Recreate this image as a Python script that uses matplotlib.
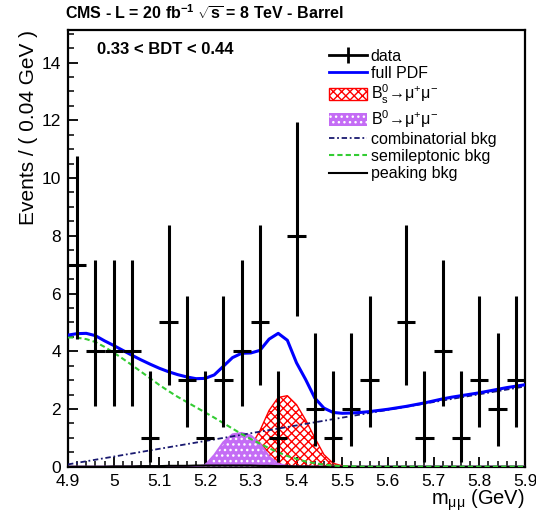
import numpy as np
import matplotlib
matplotlib.use("Agg")
import matplotlib.pyplot as plt
from matplotlib.lines import Line2D
from matplotlib.patches import Patch

plt.rcParams['font.family'] = ['Liberation Sans', 'DejaVu Sans']
plt.rcParams['mathtext.fontset'] = 'custom'
plt.rcParams['mathtext.rm'] = 'Liberation Sans'
plt.rcParams['mathtext.it'] = 'Liberation Sans:italic'
plt.rcParams['mathtext.bf'] = 'Liberation Sans:bold'
plt.rcParams['hatch.linewidth'] = 1.0

# ---- data (bin centres, counts, Poisson errors) ----
bin_centers = [4.92, 4.96, 5.00, 5.04, 5.08, 5.12, 5.16, 5.20, 5.24, 5.28, 5.32, 5.36, 5.40,
               5.44, 5.48, 5.52, 5.56, 5.60, 5.64, 5.68, 5.72, 5.76, 5.80, 5.84, 5.88]
counts = [7, 4, 4, 4, 1, 5, 3, 1, 3, 4, 5, 1, 8, 2, 1, 2, 3, 0, 5, 1, 4, 1, 3, 2, 3]
bin_half = 0.02
err_lo_table = {0: 0.0, 1: 0.827, 2: 1.292, 3: 1.633, 4: 1.914, 5: 2.159, 7: 2.580, 8: 2.768}
err_hi_table = {0: 1.841, 1: 2.299, 2: 2.637, 3: 2.918, 4: 3.162, 5: 3.382, 7: 3.775, 8: 3.945}

# ---- fitted curves ----
x_curve = [4.90, 4.92, 4.94, 4.96, 4.98, 5.00, 5.02, 5.04, 5.06, 5.08, 5.10, 5.12, 5.14, 5.16,
           5.18, 5.20, 5.22, 5.24, 5.26, 5.28, 5.30, 5.32, 5.34, 5.36, 5.38, 5.40, 5.42, 5.44,
           5.46, 5.48, 5.50, 5.52, 5.54, 5.56, 5.58, 5.60, 5.62, 5.64, 5.66, 5.68, 5.70, 5.72,
           5.74, 5.76, 5.78, 5.80, 5.82, 5.84, 5.86, 5.88, 5.90]
full_pdf = [4.56, 4.61, 4.62, 4.54, 4.36, 4.20, 4.03, 3.86, 3.70, 3.55, 3.41, 3.29, 3.19, 3.11,
            3.05, 3.06, 3.18, 3.48, 3.78, 3.93, 3.94, 4.03, 4.42, 4.62, 4.38, 3.60, 3.02, 2.38,
            2.03, 1.88, 1.85, 1.86, 1.88, 1.91, 1.95, 1.99, 2.04, 2.09, 2.15, 2.21, 2.28, 2.35,
            2.41, 2.46, 2.51, 2.56, 2.62, 2.68, 2.74, 2.79, 2.84]
semileptonic = [4.48, 4.47, 4.42, 4.32, 4.15, 3.95, 3.74, 3.52, 3.29, 3.06, 2.83, 2.62, 2.42, 2.24,
                2.06, 1.88, 1.70, 1.51, 1.32, 1.13, 0.96, 0.80, 0.64, 0.50, 0.37, 0.27, 0.18, 0.12,
                0.07, 0.04, 0.02, 0.01, 0.0, 0.0, 0.0, 0.0, 0.0, 0.0, 0.0, 0.0, 0.0, 0.0,
                0.0, 0.0, 0.0, 0.0, 0.0, 0.0, 0.0, 0.0, 0.0]
bs_signal = [0.0, 0.0, 0.0, 0.0, 0.0, 0.0, 0.0, 0.0, 0.0, 0.0, 0.0, 0.0, 0.0, 0.0,
             0.0, 0.0, 0.02, 0.06, 0.15, 0.35, 0.70, 1.25, 1.95, 2.40, 2.46, 2.15, 1.62, 1.00,
             0.42, 0.12, 0.03, 0.0, 0.0, 0.0, 0.0, 0.0, 0.0, 0.0, 0.0, 0.0, 0.0, 0.0,
             0.0, 0.0, 0.0, 0.0, 0.0, 0.0, 0.0, 0.0, 0.0]
bd_signal = [0.0, 0.0, 0.0, 0.0, 0.0, 0.0, 0.0, 0.0, 0.0, 0.0, 0.0, 0.0, 0.0, 0.0,
             0.0, 0.05, 0.40, 0.85, 1.12, 1.17, 1.08, 0.80, 0.35, 0.10, 0.02, 0.0, 0.0, 0.0,
             0.0, 0.0, 0.0, 0.0, 0.0, 0.0, 0.0, 0.0, 0.0, 0.0, 0.0, 0.0, 0.0, 0.0,
             0.0, 0.0, 0.0, 0.0, 0.0, 0.0, 0.0, 0.0, 0.0]
peaking = [0.0, 0.0, 0.0, 0.0, 0.0, 0.01, 0.01, 0.01, 0.02, 0.02, 0.02, 0.03, 0.03, 0.03,
           0.04, 0.04, 0.04, 0.04, 0.04, 0.04, 0.04, 0.03, 0.03, 0.02, 0.02, 0.01, 0.01, 0.0,
           0.0, 0.0, 0.0, 0.0, 0.0, 0.0, 0.0, 0.0, 0.0, 0.0, 0.0, 0.0, 0.0, 0.0,
           0.0, 0.0, 0.0, 0.0, 0.0, 0.0, 0.0, 0.0, 0.0]
comb_x = [4.90, 5.90]
combinatorial = [0.08, 2.78]

x_ticks = [4.9, 5.0, 5.1, 5.2, 5.3, 5.4, 5.5, 5.6, 5.7, 5.8, 5.9]
x_tick_labels = ['4.9', '5', '5.1', '5.2', '5.3', '5.4', '5.5', '5.6', '5.7', '5.8', '5.9']
y_ticks = [0, 2, 4, 6, 8, 10, 12, 14]

W, H = 536, 519
fig = plt.figure(figsize=(W / 100, H / 100), dpi=100)
ax = fig.add_axes([68 / W, 52.3 / H, 457 / W, 436.7 / H])

# fills
ax.fill_between(x_curve, bs_signal, facecolor='none', edgecolor='#ff0000', hatch='xxxx',
                linewidth=1.0, zorder=2)
ax.fill_between(x_curve, bd_signal, facecolor='#c46cf5', edgecolor='white', hatch='...',
                linewidth=0, zorder=3)
ax.plot(x_curve, bd_signal, color='#c46cf5', lw=1.5, zorder=3)

# component lines
ax.plot(x_curve, peaking, color='black', lw=1.5, zorder=3)
ax.plot(comb_x, combinatorial, color='#1a1a70', lw=1.3, linestyle=(0, (3, 1.5, 1, 1.5)), zorder=4)
ax.plot(x_curve, semileptonic, color='#33cc33', lw=1.5, linestyle=(0, (2.5, 1.5)), zorder=4)
ax.plot(x_curve, full_pdf, color='#0000ff', lw=2.2, zorder=5)

# data
xs, ys, lo, hi = [], [], [], []
for c, n in zip(bin_centers, counts):
    if n > 0:
        xs.append(c); ys.append(n)
        lo.append(err_lo_table[n]); hi.append(err_hi_table[n])
ax.errorbar(xs, ys, xerr=bin_half, yerr=[lo, hi], fmt='none', ecolor='black',
            elinewidth=2.2, capsize=0, zorder=6)

ax.set_xlim(4.9, 5.9)
ax.set_ylim(0, 15.13)
ax.set_xticks(x_ticks)
ax.set_xticklabels(x_tick_labels)
ax.set_xticks(np.arange(4.9, 5.9001, 0.02), minor=True)
ax.set_yticks(y_ticks)
ax.set_yticks(np.arange(0, 15.1, 0.5), minor=True)
ax.tick_params(which='major', direction='in', length=7.5, width=1.3, labelsize=12.5, pad=5,
               top=False, right=False)
ax.tick_params(which='minor', direction='in', length=4.2, width=1.1, top=False, right=False)
for s in ax.spines.values():
    s.set_linewidth(1.6)

ax.set_ylabel('Events / ( 0.04 GeV )', fontsize=15, loc='top')
ax.yaxis.set_label_coords(-0.065, 1.0)
ax.set_xlabel(r'm$_{\mathregular{μμ}}$ (GeV)', fontsize=14.5, loc='right')
ax.xaxis.set_label_coords(1.0, -0.048)

fig.text(65 / W, 1 - 13 / H, r'CMS - L = 20 fb$^{\mathbf{-1}}$ $\sqrt{\mathbf{s}}$ = 8 TeV - Barrel',
         fontsize=11.5, fontweight='bold', va='center', ha='left')
ax.text(97 / W, 1 - 49 / H, '0.33 < BDT < 0.44', transform=fig.transFigure,
        fontsize=12, fontweight='bold', va='center', ha='left')

handles = [
    Line2D([], [], color='black', lw=2, marker='|', markersize=11, mew=2),
    Line2D([], [], color='#0000ff', lw=2),
    Patch(facecolor='none', edgecolor='#ff0000', hatch='xxxx', lw=1),
    Patch(facecolor='#c46cf5', edgecolor='white', hatch='...', lw=0),
    Line2D([], [], color='#1a1a70', lw=1.3, linestyle=(0, (3, 1.5, 1, 1.5))),
    Line2D([], [], color='#33cc33', lw=1.5, linestyle=(0, (2.5, 1.5))),
    Line2D([], [], color='black', lw=1.5),
]
labels = ['data', 'full PDF', r'B$^{\mathregular{0}}_{\mathregular{s}}$→μ$^{\mathregular{+}}$μ$^{\mathregular{-}}$',
          r'B$^{\mathregular{0}}$→μ$^{\mathregular{+}}$μ$^{\mathregular{-}}$',
          'combinatorial bkg', 'semileptonic bkg', 'peaking bkg']
leg = fig.legend(handles, labels, loc='upper left', bbox_to_anchor=(329 / W, 1 - 49 / H),
                 frameon=False, fontsize=11.5, handlelength=2.4, handleheight=0.8,
                 labelspacing=0.13, handletextpad=0.2, borderpad=0, borderaxespad=0)

fig.savefig('out.png', dpi=100)
